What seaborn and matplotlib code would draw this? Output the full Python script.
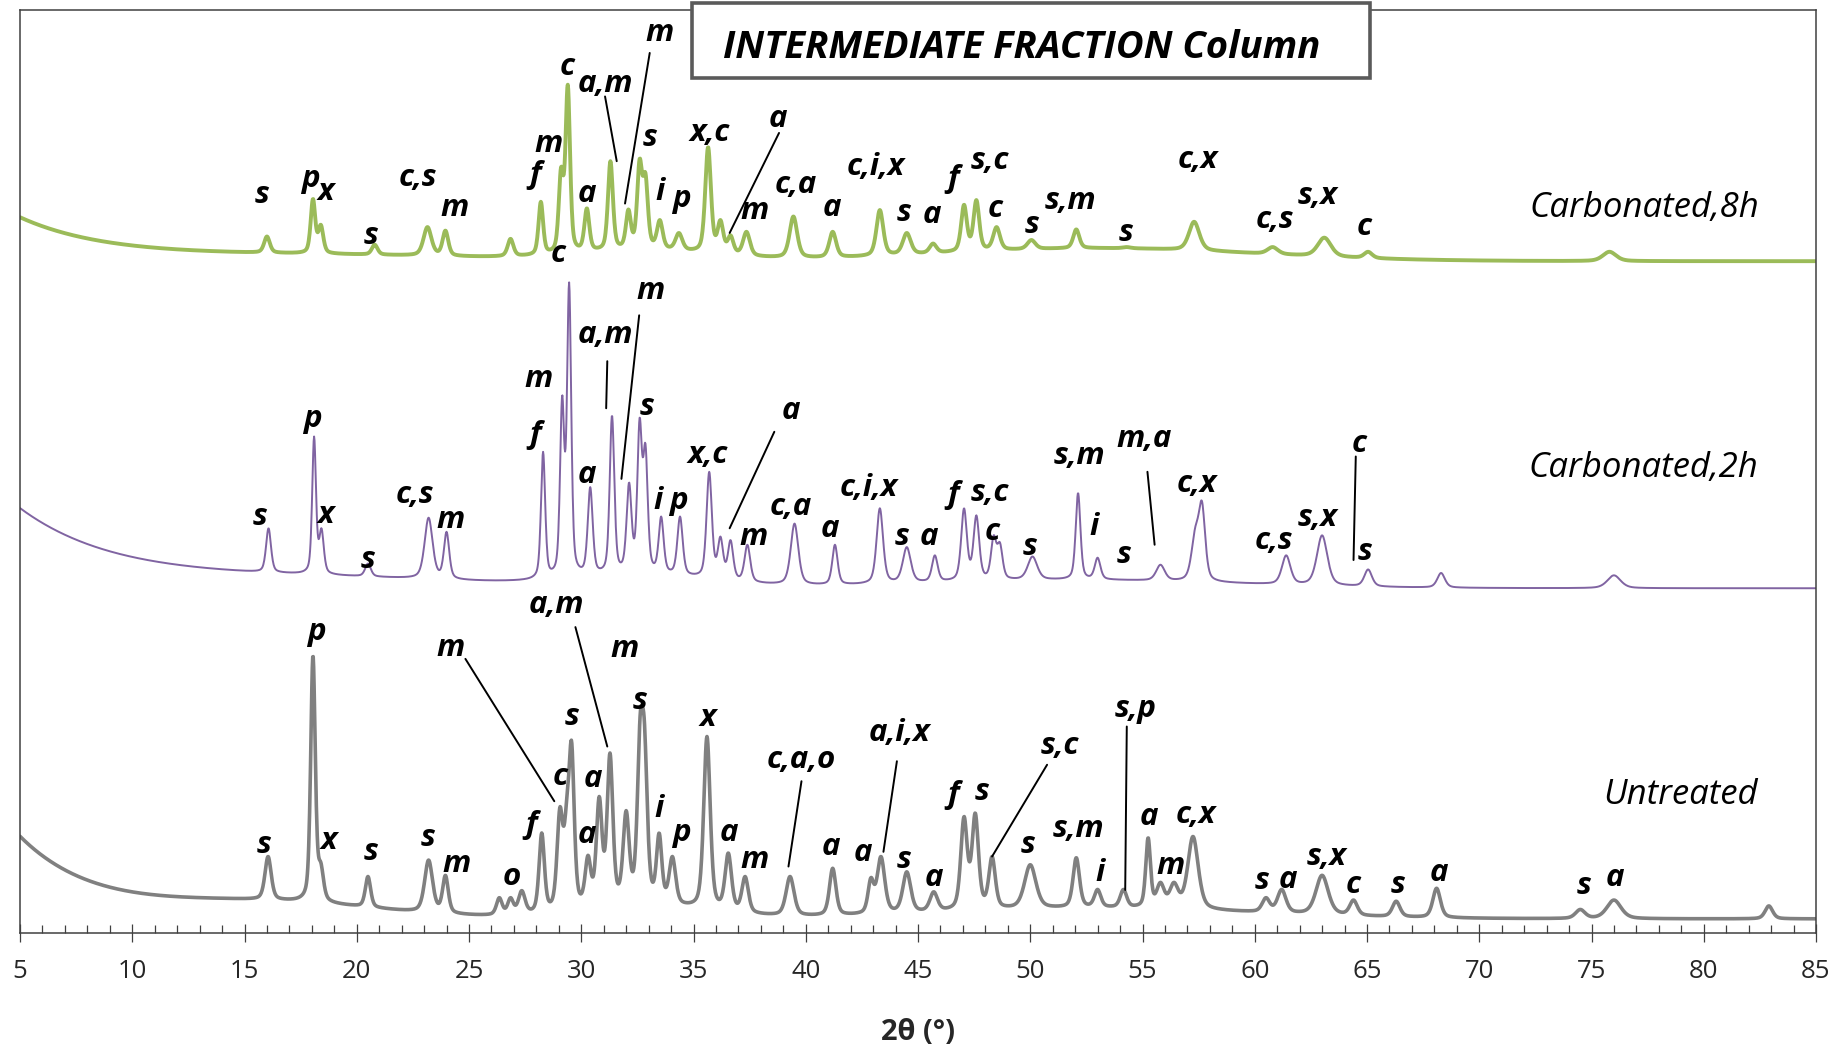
import numpy as np
import pandas as pd
import matplotlib
matplotlib.use("Agg")
import matplotlib.pyplot as plt
from matplotlib.patches import Rectangle
import seaborn as sns

# ---------------------------------------------------------------------------
# Diffraction data.  For every pattern: reflection positions (2θ, degrees),
# apex intensity of each reflection (arbitrary units, patterns stacked with
# offsets), FWHM of each reflection (degrees), and background terms
# (flat level, low-angle tail amplitude / decay length, broad humps).
# ---------------------------------------------------------------------------
untreated_pos = [16.05, 18.05, 18.4, 20.5, 23.2, 23.95, 26.35, 26.85, 27.35, 28.24,
                 29.05, 29.35, 29.57, 30.3, 30.8, 31.28, 32.0, 32.62, 32.82, 33.47,
                 34.06, 35.6, 36.55, 37.3, 39.3, 41.2, 42.9, 43.35, 44.5, 45.7,
                 47.05, 47.55, 48.3, 50.0, 52.05, 53.0, 54.15, 55.25, 55.8, 56.4,
                 57.25, 60.5, 61.2, 63.0, 64.4, 66.3, 68.1, 74.5, 76.0, 82.9]
untreated_top = [65, 236, 60, 48, 62, 49, 30, 30, 36, 85,
                 107, 113, 163, 66, 116, 153, 104, 184, 177, 85,
                 65, 167, 68, 48, 48, 55, 47, 65, 52, 35,
                 99, 102, 65, 58, 64, 37, 37, 81, 43, 43,
                 82, 30, 37, 49, 28, 27, 38, 20, 28, 23]
untreated_fwhm = [0.33, 0.24, 0.28, 0.28, 0.42, 0.3, 0.3, 0.3, 0.35, 0.28,
                  0.3, 0.28, 0.28, 0.3, 0.3, 0.3, 0.32, 0.3, 0.3, 0.28,
                  0.34, 0.34, 0.34, 0.34, 0.42, 0.34, 0.3, 0.4, 0.42, 0.4,
                  0.34, 0.34, 0.34, 0.6, 0.34, 0.34, 0.34, 0.25, 0.4, 0.45,
                  0.55, 0.4, 0.45, 0.65, 0.4, 0.4, 0.4, 0.5, 0.75, 0.4]
untreated_level = 12
untreated_tail = (69, 3.5)
untreated_humps = [(16, 13, 5), (33, 10, 2.8), (53, 9, 7)]

carb2h_pos = [16.07, 18.1, 18.43, 20.5, 23.2, 24.0, 28.3, 29.15, 29.46, 30.4,
              31.37, 32.13, 32.6, 32.86, 33.56, 34.4, 35.7, 36.2, 36.65, 37.4,
              39.5, 41.3, 43.3, 44.5, 45.75, 47.05, 47.6, 48.37, 48.65, 50.1,
              52.13, 53.0, 55.8, 57.35, 57.65, 61.4, 63.0, 65.05, 68.3, 76.0]
carb2h_top = [344, 422, 344, 314, 353, 341, 409, 457, 553, 379,
              440, 383, 438, 416, 354, 354, 392, 337, 334, 330,
              348, 330, 361, 328, 321, 361, 355, 338, 332, 320,
              374, 319, 313, 345, 367, 321, 338, 309, 306, 304]
carb2h_fwhm = [0.26, 0.2, 0.24, 0.3, 0.42, 0.28, 0.22, 0.22, 0.22, 0.26,
               0.24, 0.26, 0.24, 0.24, 0.26, 0.28, 0.28, 0.28, 0.28, 0.3,
               0.4, 0.28, 0.34, 0.42, 0.3, 0.3, 0.3, 0.28, 0.28, 0.5,
               0.25, 0.3, 0.45, 0.4, 0.34, 0.45, 0.55, 0.4, 0.4, 0.7]
carb2h_level = 293
carb2h_tail = (66, 4.5)
carb2h_humps = [(18, 8, 8), (33, 9, 3), (52, 7, 7)]

carb8h_pos = [16.0, 18.05, 18.4, 20.8, 23.15, 23.95, 26.85, 28.2, 29.1, 29.4,
              30.25, 31.3, 32.1, 32.6, 32.86, 33.5, 34.35, 35.65, 36.2, 36.65,
              37.36, 39.45, 41.2, 43.3, 44.5, 45.67, 47.05, 47.6, 48.5, 50.05,
              52.05, 54.3, 57.3, 60.8, 63.1, 65.05, 75.8]
carb8h_top = [592, 624, 602, 585, 600, 597, 590, 621.5, 651, 721,
              616, 656, 615, 658, 646, 606, 595, 668, 606, 593,
              596, 609, 596, 614.5, 595, 586, 619, 623, 600, 589,
              598, 583, 604.5, 583, 591, 579, 579]
carb8h_fwhm = [0.3, 0.24, 0.26, 0.3, 0.42, 0.3, 0.3, 0.24, 0.24, 0.24,
               0.26, 0.26, 0.26, 0.26, 0.26, 0.3, 0.36, 0.3, 0.3, 0.3,
               0.36, 0.4, 0.36, 0.36, 0.42, 0.36, 0.3, 0.3, 0.36, 0.42,
               0.32, 0.42, 0.55, 0.55, 0.7, 0.42, 0.7]
carb8h_level = 571
carb8h_tail = (36, 4.0)
carb8h_humps = [(18, 5, 8), (33, 8, 3), (53, 11, 7)]

series_names = ["Untreated", "Carbonated,2h", "Carbonated,8h"]
x_ticks = [5, 10, 15, 20, 25, 30, 35, 40, 45, 50, 55, 60, 65, 70, 75, 80, 85]

# Phase labels: (text, 2θ, height) and leader lines (x1, y1, x2, y2)
untreated_labels = [
    ("s", 15.85, 75), ("p", 18.21, 256), ("x", 18.74, 78), ("s", 20.62, 69),
    ("s", 23.19, 81), ("m", 24.45, 59), ("o", 26.91, 48), ("f", 27.75, 92),
    ("m", 24.19, 242), ("c", 29.06, 133), ("s", 29.59, 184), ("a", 30.53, 131),
    ("a", 30.27, 83), ("a,m", 28.91, 279), ("m", 31.95, 241), ("s", 32.63, 197),
    ("i", 33.47, 105), ("p", 34.46, 85), ("x", 35.62, 183), ("a", 36.56, 85),
    ("m", 37.71, 62), ("c,a,o", 39.81, 147), ("a", 41.12, 73), ("a", 42.54, 68),
    ("s", 44.37, 62), ("a,i,x", 44.16, 170), ("a", 45.73, 47), ("f", 46.57, 117),
    ("s", 47.83, 120), ("s,c", 51.34, 159), ("s", 49.88, 75), ("s,m", 52.13, 88),
    ("i", 53.13, 51), ("s,p", 54.70, 190), ("a", 55.28, 99), ("c,x", 57.37, 100),
    ("m", 56.27, 57), ("s", 60.31, 44), ("a", 61.46, 45), ("s,x", 63.19, 65),
    ("c", 64.40, 41), ("s", 66.39, 41), ("a", 68.22, 51), ("s", 74.67, 40),
    ("a", 76.04, 47),
]
untreated_leaders = [
    (24.84, 233, 28.80, 112), (29.74, 260, 31.16, 158.5), (39.81, 129, 39.23, 56.5),
    (44.06, 146, 43.46, 69), (50.75, 143, 48.30, 65), (54.30, 175.5, 54.23, 36.6),
]
carb2h_labels = [
    ("s", 15.69, 354), ("p", 18.00, 437), ("x", 18.63, 355), ("s", 20.52, 317),
    ("c,s", 22.61, 372), ("m", 24.19, 351), ("f", 27.96, 423), ("m", 28.12, 471),
    ("c", 28.96, 577), ("a,m", 31.06, 508), ("m", 33.10, 546), ("a", 30.27, 389),
    ("s", 32.94, 447), ("i", 33.41, 367), ("p", 34.31, 367), ("x,c", 35.62, 406),
    ("a", 39.34, 444), ("m", 37.66, 337), ("c,a", 39.34, 362), ("a", 41.07, 343),
    ("c,i,x", 42.80, 378), ("s", 44.27, 337), ("a", 45.47, 337), ("f", 46.57, 372),
    ("s,c", 48.20, 374), ("c", 48.30, 341), ("s", 49.98, 328), ("s,m", 52.18, 405),
    ("m,a", 55.07, 420), ("i", 52.86, 345), ("s", 54.17, 321), ("c,x", 57.42, 382),
    ("c,s", 60.83, 333), ("s,x", 62.82, 353), ("c", 64.66, 416), ("s", 64.92, 324),
]
carb2h_leaders = [
    (31.16, 486, 31.11, 446), (32.58, 525, 31.79, 386), (38.60, 426, 36.61, 344),
    (55.22, 392, 55.54, 330), (64.50, 405, 64.40, 317),
]
carb8h_labels = [
    ("s", 15.80, 627), ("p", 17.95, 641), ("x", 18.63, 630), ("s", 20.62, 592),
    ("c,s", 22.72, 642), ("m", 24.34, 616), ("f", 27.96, 644), ("m", 28.54, 671),
    ("c", 29.38, 736), ("a,m", 31.06, 722), ("m", 33.47, 765), ("a", 30.27, 628),
    ("s", 33.05, 676), ("i", 33.52, 630), ("p", 34.46, 624), ("x,c", 35.72, 680),
    ("a", 38.76, 692), ("m", 37.71, 614), ("c,a", 39.55, 636), ("a", 41.17, 616),
    ("c,i,x", 43.11, 651), ("s", 44.37, 612), ("a", 45.63, 610), ("f", 46.57, 641),
    ("s,c", 48.20, 656), ("c", 48.46, 615), ("s", 50.09, 602), ("s,m", 51.81, 622),
    ("s", 54.28, 595), ("c,x", 57.48, 657), ("c,s", 60.89, 606), ("s,x", 62.82, 626),
    ("c", 64.87, 600),
]
carb8h_leaders = [
    (31.06, 711, 31.58, 656), (33.05, 748, 31.95, 620), (38.81, 680, 36.61, 595),
]


def peak_shape(x, centre, fwhm):
    """Unit-height pseudo-Voigt profile."""
    u = (np.asarray(x, dtype=float) - centre) / fwhm
    return 0.55 * np.exp(-4 * np.log(2) * u ** 2) + 0.45 / (1 + 4 * u ** 2)


def background(x, level, tail, humps):
    x = np.asarray(x, dtype=float)
    amp, decay = tail
    y = level + amp * np.exp(-(x - 5.0) / decay)
    for c, h, s in humps:
        y = y + h * np.exp(-0.5 * ((x - c) / s) ** 2)
    return y


def diffractogram(two_theta, pos, top, fwhm, level, tail, humps):
    """Pattern whose apex at every reflection equals the tabulated intensity."""
    pos = np.asarray(pos, dtype=float)
    shapes = np.array([peak_shape(pos, c, w) for c, w in zip(pos, fwhm)]).T
    net = np.linalg.solve(shapes, np.asarray(top) - background(pos, level, tail, humps))
    net = np.clip(net, 0, None)
    y = background(two_theta, level, tail, humps)
    for c, w, h in zip(pos, fwhm, net):
        y = y + h * peak_shape(two_theta, c, w)
    return y


two_theta = np.linspace(5, 85, 4001)
frames = []
for name, args in zip(series_names, [
    (untreated_pos, untreated_top, untreated_fwhm, untreated_level, untreated_tail, untreated_humps),
    (carb2h_pos, carb2h_top, carb2h_fwhm, carb2h_level, carb2h_tail, carb2h_humps),
    (carb8h_pos, carb8h_top, carb8h_fwhm, carb8h_level, carb8h_tail, carb8h_humps),
]):
    frames.append(pd.DataFrame({"two_theta": two_theta,
                                "intensity": diffractogram(two_theta, *args),
                                "pattern": name}))
df = pd.concat(frames, ignore_index=True)

sns.set_theme(style="white")
plt.rcParams["font.family"] = ["Open Sans", "DejaVu Sans"]

fig = plt.figure(figsize=(18.45, 10.52), dpi=100)
ax = fig.add_axes([20 / 1845, 1 - 933 / 1052, 1796 / 1845, 923 / 1052])

colors = {"Untreated": "#808080", "Carbonated,2h": "#8064a2", "Carbonated,8h": "#9bbb59"}
widths = {"Untreated": 2.6, "Carbonated,2h": 1.4, "Carbonated,8h": 2.8}
for name in series_names:
    sns.lineplot(data=df[df["pattern"] == name], x="two_theta", y="intensity",
                 color=colors[name], linewidth=widths[name], ax=ax,
                 estimator=None, sort=False, legend=False)

ax.set_xlim(5, 85)
ax.set_ylim(0, 784.5)
ax.set_yticks([])
ax.set_xticks(x_ticks)
ax.set_xticklabels([str(t) for t in x_ticks])
ax.set_xticks(np.arange(5, 86, 1), minor=True)
ax.tick_params(axis="x", which="major", direction="inout", length=13.5, width=0.9,
               color="#404040", labelsize=18.5, labelcolor="#262626", pad=12, bottom=True)
ax.tick_params(axis="x", which="minor", direction="in", length=6, width=0.9,
               color="#404040", bottom=True)
ax.set_xlabel("")
ax.set_ylabel("")
for sp in ax.spines.values():
    sp.set_color("#404040")
    sp.set_linewidth(1.1)

label_style = dict(ha="center", va="center", fontsize=22.5, fontweight="bold",
                   fontstyle="italic", color="black")
for labels, leaders in [(untreated_labels, untreated_leaders),
                        (carb2h_labels, carb2h_leaders),
                        (carb8h_labels, carb8h_leaders)]:
    for txt, x, y in labels:
        ax.text(x, y, txt, **label_style)
    for x1, y1, x2, y2 in leaders:
        ax.plot([x1, x2], [y1, y2], color="black", linewidth=1.4)

series_label_pos = {"Carbonated,8h": (77.37, 616), "Carbonated,2h": (77.29, 395),
                    "Untreated": (78.95, 117)}
for name, (x, y) in series_label_pos.items():
    ax.text(x, y, name, ha="center", va="center", fontsize=25, fontstyle="italic",
            color="black")

fig.text(918 / 1845, 1 - 1033 / 1052, "2θ (°)", ha="center", va="center",
         fontsize=21, fontweight="bold", color="#262626")

# Title box
fig.patches.append(Rectangle((692 / 1845, 1 - 78 / 1052), 678 / 1845, 74.7 / 1052,
                             transform=fig.transFigure, facecolor="white",
                             edgecolor="#5a5a5a", linewidth=2.6, zorder=5))
fig.text(1022 / 1845, 1 - 47.5 / 1052, "INTERMEDIATE FRACTION Column", ha="center",
         va="center", fontsize=27.5, fontweight="bold", fontstyle="italic",
         color="black", zorder=6)

fig.savefig("out.png", dpi=100)
